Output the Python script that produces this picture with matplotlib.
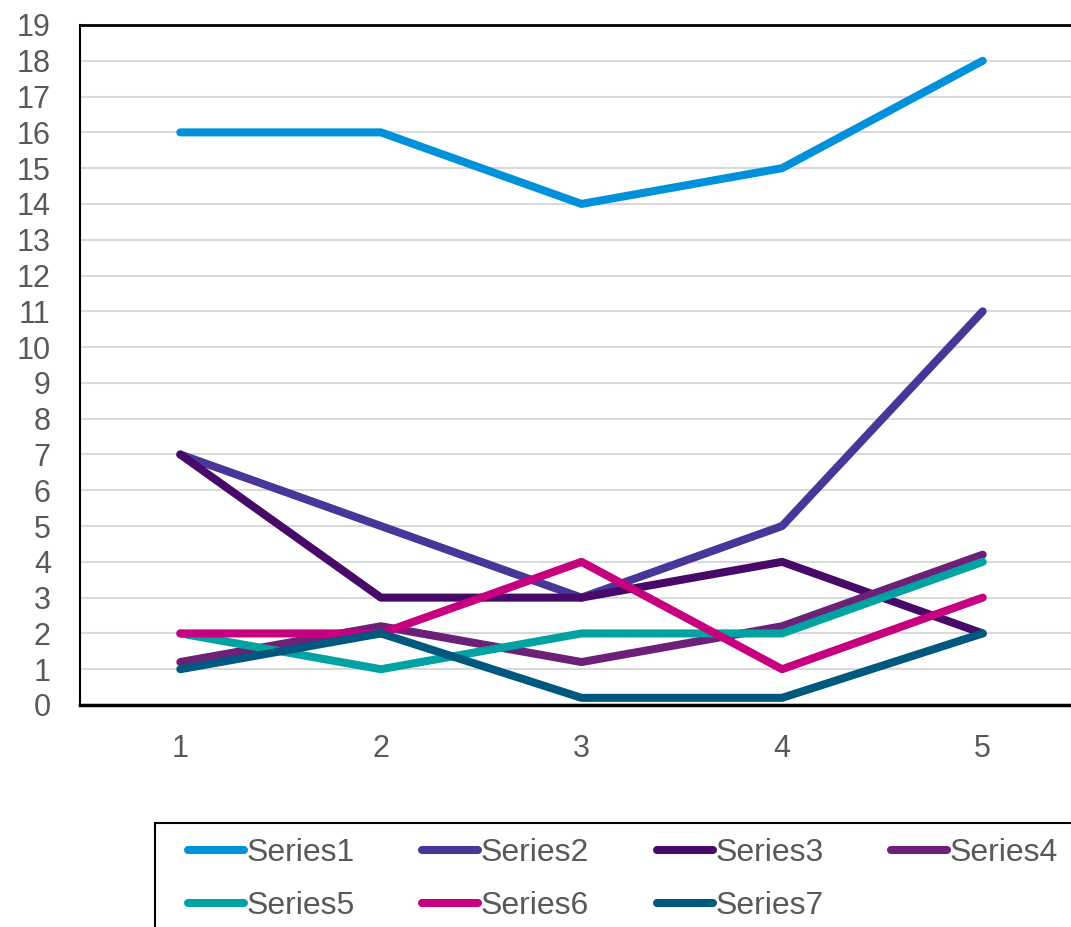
import matplotlib
matplotlib.use("Agg")
import matplotlib.pyplot as plt
from matplotlib.patches import Rectangle

plt.rcParams['font.family'] = ['Liberation Sans', 'DejaVu Sans']

categories = [1, 2, 3, 4, 5]
series_names = ["Series1", "Series2", "Series3", "Series4", "Series5", "Series6", "Series7"]
series1 = [16, 16, 14, 15, 18]
series2 = [7, 5, 3, 5, 11]
series3 = [7, 3, 3, 4, 2]
series4 = [1.2, 2.2, 1.2, 2.2, 4.2]
series5 = [2, 1, 2, 2, 4]
series6 = [2, 2, 4, 1, 3]
series7 = [1, 2, 0.2, 0.2, 2]
colors = ["#0091DA", "#483698", "#470A68", "#6D2077", "#00A3A1", "#C6007E", "#00587F"]
yticks = list(range(0, 20))

W, H = 1071, 927
fig = plt.figure(figsize=(W / 100, H / 100), dpi=100)
left = 80 / W
right = (80 + 5 * 200.6) / W
top = 1 - 25 / H
bottom = 1 - 705 / H
ax = fig.add_axes([left, bottom, right - left, top - bottom])

data = [series1, series2, series3, series4, series5, series6, series7]
handles = []
for name, vals, c in zip(series_names, data, colors):
    h, = ax.plot(categories, vals, color=c, lw=5.8, solid_capstyle='round',
                 solid_joinstyle='round', label=name, zorder=3)
    handles.append(h)

ax.set_xlim(0.5, 5.5)
ax.set_ylim(0, 19)
ax.set_yticks(yticks)
ax.set_xticks(categories)
ax.grid(axis='y', color='#d9d9d9', lw=1.5, zorder=0)
ax.tick_params(axis='both', length=0, labelsize=22, colors='#595959')
ax.tick_params(axis='y', pad=21)
ax.tick_params(axis='x', pad=21)
for lab in ax.get_yticklabels() + ax.get_xticklabels():
    lab.set_color('#595959')
ax.spines['left'].set_linewidth(1.5)
ax.spines['bottom'].set_linewidth(2.5)
ax.spines['top'].set_linewidth(2)
ax.spines['right'].set_visible(False)
for s in ['left', 'bottom', 'top']:
    ax.spines[s].set_color('black')

# legend frame
fig.add_artist(Rectangle((155 / W, -0.02), 1.0, 0.02 + (1 - 823 / H),
                         transform=fig.transFigure, fill=False, edgecolor='black', lw=1.5))
# row-major order for a 4-column legend
order = [0, 4, 1, 5, 2, 6, 3]
leg = fig.legend(handles=[handles[i] for i in order], loc='upper left',
                 bbox_to_anchor=(188 / W, 1 - 838 / H),
                 ncol=4, frameon=False, fontsize=23, handlelength=1.75, handletextpad=0.08,
                 columnspacing=2.12, labelspacing=0.72, borderaxespad=0, borderpad=0)
for t in leg.get_texts():
    t.set_color('#595959')

fig.savefig("out.png", dpi=100)
